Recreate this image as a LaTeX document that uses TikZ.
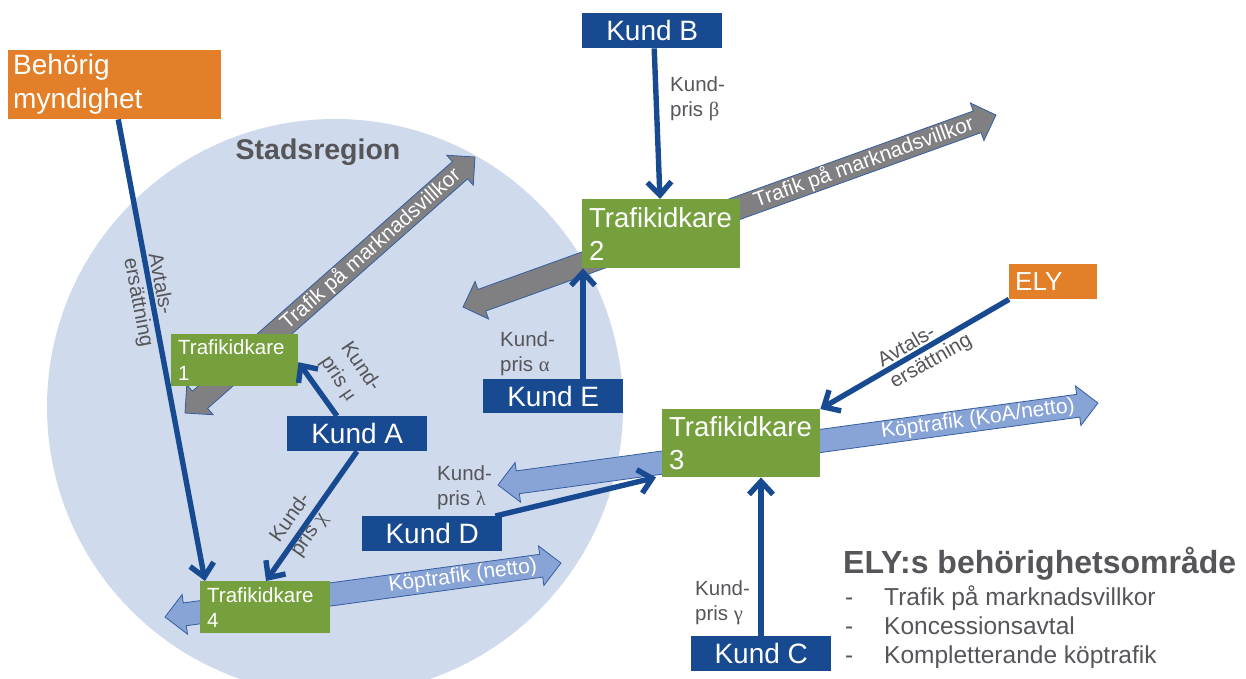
\documentclass[tikz,border=0pt]{standalone}
\usepackage{fontspec}
\setmainfont{Liberation Sans}
\newfontfamily\grk{Liberation Serif}
\usetikzlibrary{arrows.meta}
\hyphenpenalty=10000 \exhyphenpenalty=10000
\definecolor{kblue}{RGB}{24,74,146}
\definecolor{tgreen}{RGB}{118,160,62}
\definecolor{borange}{RGB}{226,127,40}
\definecolor{regionfill}{RGB}{207,219,236}
\definecolor{arrgray}{RGB}{128,128,131}
\definecolor{arrblue}{RGB}{136,163,213}
\definecolor{arredge}{RGB}{52,94,160}
\definecolor{lblgray}{RGB}{85,85,90}
\newcommand\fsz[2]{\fontsize{#1}{#2}\selectfont}
\newcommand\gr[1]{{\grk #1}}
% double block arrow: #1 fill, #2 x1, #3 y1, #4 x2, #5 y2, #6 name, #7 text, #8 fraction
\newcommand\dblarrow[8]{%
 \pgfmathsetmacro\arLen{veclen(#4-#2,#5-#3)}%
 \pgfmathsetmacro\arAng{atan2(#3-#5,#4-#2)}%
 \pgfmathsetmacro\arB{\arLen-20}%
 \pgfmathsetmacro\arT{#8*\arLen}%
 \begin{scope}[shift={(#2,#3)},rotate=\arAng]
  \path[fill=#1,draw=arredge,line width=0.8pt,line join=miter]
   (0,0) -- (20,20) -- (20,11.5) -- (\arB,11.5) -- (\arB,20) -- (\arLen,0)
   -- (\arB,-20) -- (\arB,-11.5) -- (20,-11.5) -- (20,-20) -- cycle;
  \node[rotate=\arAng, text=white, inner sep=0, font=\fsz{21}{25}] (#6) at (\arT,0) {#7};
 \end{scope}}
\begin{document}
\begin{tikzpicture}[x=1pt,y=-1pt,
  kund/.style={rectangle, fill=kblue, text=white, inner sep=0, anchor=north west,
    minimum width=140pt, minimum height=35pt, font=\fsz{28}{33}},
  tk/.style={rectangle, fill=tgreen, text=white, inner ysep=0, anchor=north west, align=left},
  auth/.style={rectangle, fill=borange, text=white, inner ysep=0, anchor=north west, align=left},
  conn/.style={draw=kblue, line width=5.4pt, -{Straight Barb[length=13pt,width=24pt]}},
  lbl/.style={text=lblgray, inner sep=0, align=left, font=\fsz{20.5}{25}},
  item/.style={text=lblgray, inner sep=0, anchor=base west, font=\fsz{24.5}{29}}]
\useasboundingbox (0,0) rectangle (1246,678);
\clip (0,0) rectangle (1246,678);
% region
\fill[regionfill] (335,407) circle[radius=288];
\node[font=\bfseries\fsz{28.5}{34}, text=lblgray, inner sep=0] (sr) at (318,152) {Stadsregion};
% block arrows
\dblarrow{arrgray}{185}{413}{475}{157}{ta}{Trafik på marknadsvillkor}{0.64}
\dblarrow{arrgray}{463}{307}{996}{115}{tb}{Trafik på marknadsvillkor}{0.752}
\dblarrow{arrblue}{498}{485}{1098}{403}{tc}{Köptrafik (KoA/netto)}{0.8}
\dblarrow{arrblue}{165}{617}{561}{563}{td}{Köptrafik (netto)}{0.752}
% boxes
\node[auth, inner xsep=5pt, text width=203pt, minimum height=69pt, font=\fsz{28}{34}] (bm) at (8,50) {Behörig\\myndighet};
\node[auth, inner xsep=6pt, text width=76pt, minimum height=35pt, font=\fsz{26}{31}] (ely) at (1009,264) {ELY};
\node[kund] (kb) at (582,13) {Kund B};
\node[kund] (ka) at (287,416) {Kund A};
\node[kund, minimum height=34pt] (ke) at (483,379) {Kund E};
\node[kund] (kd) at (362,516) {Kund D};
\node[kund] (kc) at (691,636) {Kund C};
\node[tk, inner xsep=7pt, text width=113pt, minimum height=52pt, font=\fsz{20.5}{26}] (t1) at (171,334) {Trafikidkare\\1};
\node[tk, inner xsep=7pt, text width=144pt, minimum height=69pt, font=\fsz{27.5}{33}] (t2) at (582,199) {Trafikidkare\\2};
\node[tk, inner xsep=7pt, text width=144pt, minimum height=68pt, font=\fsz{27.5}{33}] (t3) at (662,409) {Trafikidkare\\3};
\node[tk, inner xsep=7pt, text width=116pt, minimum height=52pt, font=\fsz{20.5}{25}] (t4) at (200,581) {Trafikidkare\\4};
% connectors
\draw[conn] ([xshift=3.5pt]bm.south) -- ([xshift=5pt]t4.north west);
\draw[conn] ([xshift=2pt]kb.south) -- ([xshift=78pt]t2.north west);
\draw[conn] ([xshift=100pt]ke.north west) -- ([xshift=1pt]t2.south west);
\draw[conn] ([xshift=50pt]ka.north west) -- ([yshift=-2pt]t1.east);
\draw[conn] ([xshift=70pt]ka.south west) -- ([xshift=66pt]t4.north west);
\draw[conn] ([xshift=-7pt]kd.north east) -- ([xshift=-6pt]t3.south west);
\draw[conn] (ely.south west) -- (t3.north east);
\draw[conn] ([xshift=70pt]kc.north west) -- ([xshift=99pt]t3.south west);
% labels
\node[lbl, rotate=-79.3] (lav1) at (150,300) {Avtals-\\ersättning};
\node[lbl, rotate=29.7] (lav2) at (925,351) {Avtals-\\ersättning};
\node[lbl, anchor=west] (lbeta) at (670,99) {Kund-\\pris \gr{β}};
\node[lbl, anchor=west] (lalpha) at (500,354) {Kund-\\pris \gr{α}};
\node[lbl, rotate=-56] (lmu) at (350,374) {Kund-\\pris \gr{μ}};
\node[lbl, rotate=55] (lchi) at (301,525) {Kund-\\pris \gr{χ}};
\node[lbl, anchor=west] (llambda) at (437,488) {Kund-\\pris \gr{λ}};
\node[lbl, anchor=west] (lgamma) at (695,603) {Kund-\\pris \gr{γ}};
% legend
\node[anchor=base west, text=lblgray, inner sep=0, font=\bfseries\fsz{32}{38}] (leg) at (843,573) {ELY:s behörighetsområde};
\node[item] (i1) at (845,605) {\makebox[39pt][l]{-}Trafik på marknadsvillkor};
\node[item] (i2) at (845,634) {\makebox[39pt][l]{-}Koncessionsavtal};
\node[item] (i3) at (845,663) {\makebox[39pt][l]{-}Kompletterande köptrafik};
\end{tikzpicture}
\end{document}
